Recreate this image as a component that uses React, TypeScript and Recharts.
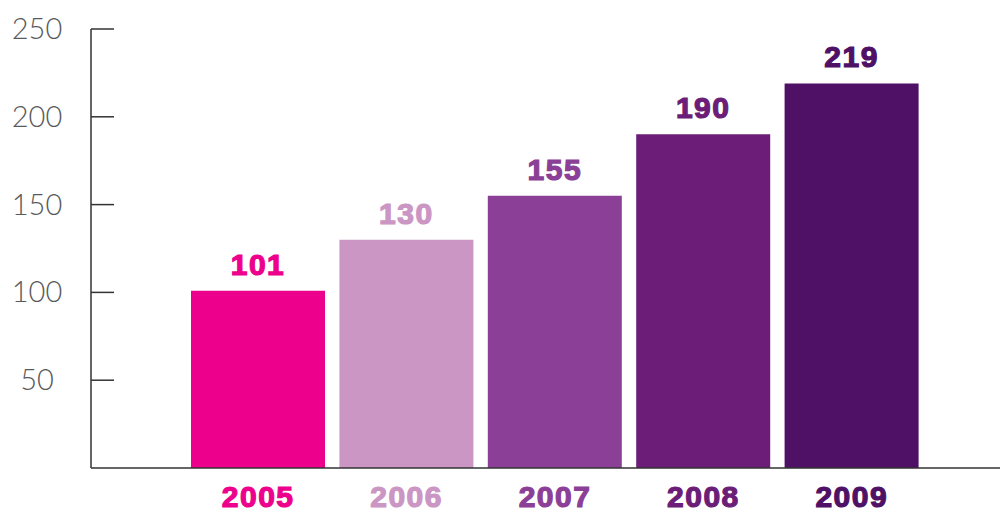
import { BarChart, Bar, XAxis, YAxis, Cell, LabelList } from 'recharts'

const years = ['2005', '2006', '2007', '2008', '2009']
const values = [101, 130, 155, 190, 219]
const colors = ['#EC008C', '#CB96C4', '#8C3F97', '#6B1D77', '#4F1166']
const yTicks = [50, 100, 150, 200, 250]

const data = years.map((year, i) => ({ year, value: values[i] }))

const boldText = {
  fontFamily: '"Liberation Sans", Arial, sans-serif',
  fontWeight: 700,
  fontSize: 30,
  letterSpacing: 1.5,
}

function YTick(props: any) {
  const { x, y, payload } = props
  return (
    <g>
      <line x1={x} x2={x + 23} y1={y} y2={y} stroke="#333" strokeWidth={1.5} />
      <text
        x={x - 54}
        y={y}
        dy={10}
        textAnchor="middle"
        fill="#58595b"
        style={{ fontFamily: 'Lato, "Open Sans", sans-serif', fontWeight: 300, fontSize: 29 }}
      >
        {payload.value}
      </text>
    </g>
  )
}

function YearTick(props: any) {
  const { x, y, payload, index } = props
  return (
    <text
      x={x}
      y={y + 39}
      textAnchor="middle"
      fill={colors[index]}
      stroke={colors[index]}
      strokeWidth={1.2}
      style={boldText}
    >
      {payload.value}
    </text>
  )
}

function ValueLabel(props: any) {
  const { x, y, width, value, index } = props
  return (
    <text
      x={x + width / 2}
      y={y - 16}
      textAnchor="middle"
      fill={colors[index]}
      stroke={colors[index]}
      strokeWidth={1.2}
      style={boldText}
    >
      {value}
    </text>
  )
}

export default function App() {
  return (
    <BarChart
      width={1000}
      height={505}
      data={data}
      margin={{ top: 21, right: 0, bottom: 0, left: 0 }}
    >
      <XAxis
        dataKey="year"
        height={45}
        padding={{ left: 93, right: 82 }}
        axisLine={{ stroke: '#333', strokeWidth: 1.5 }}
        tickLine={false}
        tickSize={0}
        tickMargin={0}
        interval={0}
        tick={<YearTick />}
      />
      <YAxis
        width={83}
        domain={[0, 250]}
        ticks={yTicks}
        axisLine={{ stroke: '#333', strokeWidth: 1.5 }}
        tickLine={false}
        tickSize={0}
        tickMargin={0}
        interval={0}
        tick={<YTick />}
      />
      <Bar dataKey="value" barSize={134} isAnimationActive={false}>
        {data.map((d, i) => (
          <Cell key={d.year} fill={colors[i]} />
        ))}
        <LabelList dataKey="value" content={<ValueLabel />} />
      </Bar>
    </BarChart>
  )
}
